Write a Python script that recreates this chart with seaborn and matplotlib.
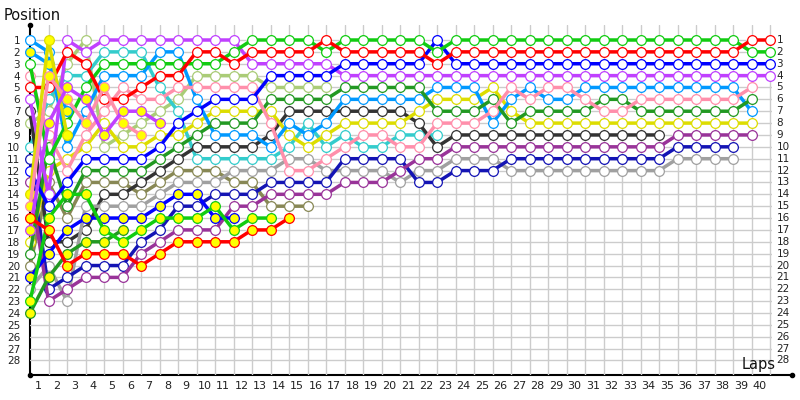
import matplotlib
matplotlib.use("Agg")
import matplotlib.pyplot as plt
import matplotlib.transforms as mtransforms
from matplotlib.lines import Line2D
import seaborn as sns
import pandas as pd

sns.set_style("white")
plt.rcParams["font.family"] = ["DejaVu Sans"]

# ---------------- data (position per lap, lap 0 = grid) ----------------
lap_labels = list(range(1, 41))
position_labels = list(range(1, 29))

red_w = [5, 5, 2, 3, 6, 6, 5, 4, 4, 2, 2, 3, 2, 2, 2, 2, 1, 2, 2, 2, 2, 2, 3,
         2, 2, 2, 2, 2, 2, 2, 2, 2, 2, 2, 2, 2, 2, 2, 2, 1, 1]
green_w = [3, 11, 8, 5, 3, 3, 3, 3, 3, 3, 3, 2, 1, 1, 1, 1, 2, 1, 1, 1, 1, 1, 2,
           1, 1, 1, 1, 1, 1, 1, 1, 1, 1, 1, 1, 1, 1, 1, 1, 2, 2]
blue_w = [12, 15, 13, 11, 11, 11, 11, 10, 8, 7, 6, 6, 6, 4, 4, 4, 4, 3, 3, 3, 3, 3, 1,
          3, 3, 3, 3, 3, 3, 3, 3, 3, 3, 3, 3, 3, 3, 3, 3, 3, 3]
violet_w = [6, 14, 1, 2, 1, 1, 1, 1, 1, 1, 1, 1, 3, 3, 3, 3, 3,
            4, 4, 4, 4, 4, 4, 4, 4, 4, 4, 4, 4, 4, 4, 4, 4, 4, 4, 4, 4, 4, 4, 4, 4]
pink_w = [4, 9, 12, 9, 7, 5, 6, 6, 5, 5, 5, 5, 5, 8, 12, 12, 11, 10, 9, 9, 10, 10, 8,
          8, 8, 7, 5, 6, 5, 5, 6, 7, 7, 6, 6, 6, 6, 6, 6, 5]
dkgreen_w = [19, 10, 15, 12, 12, 12, 12, 11, 10, 9, 8, 8, 8, 6, 6, 6, 6, 5, 5, 5, 5, 5, 7,
             7, 7, 6, 8, 7, 7, 7, 7, 6, 6, 7, 7, 7, 7, 7, 7, 6]
ltblue_w = [1, 2, 10, 7, 4, 4, 4, 2, 2, 6, 9, 9, 9, 10, 8, 9, 8, 6, 6, 6, 6, 6, 5,
            5, 5, 8, 6, 5, 6, 6, 5, 5, 5, 5, 5, 5, 5, 5, 5, 7]
yellow_w = [18, 12, 11, 10, 8, 10, 10, 9, 9, 8, 7, 7, 7, 7, 9, 10, 9, 8, 8, 8, 8, 7, 6,
            6, 6, 5, 7, 8, 8, 8, 8, 8, 8, 8, 8, 8, 8, 8, 8, 8]
purple_w = [13, 23, 22, 21, 21, 21, 19, 18, 17, 17, 17, 15, 15, 14, 14, 14, 14, 13, 13, 13, 12, 11, 11,
            10, 10, 10, 10, 10, 10, 10, 10, 10, 10, 10, 10, 9, 9, 9, 9, 9]
navy_w = [11, 22, 21, 20, 20, 20, 18, 17, 15, 15, 14, 14, 14, 13, 13, 13, 13, 11, 11, 11, 11, 13, 13,
          12, 12, 12, 11, 11, 11, 11, 11, 11, 11, 11, 11, 10, 10, 10, 10]
gray_w = [22, 20, 23, 15, 15, 15, 15, 14, 13, 13, 13, 12, 12, 12, 11, 11, 12, 12, 12, 12, 13, 12, 12,
          11, 11, 11, 12, 12, 12, 12, 12, 12, 12, 12, 12, 11, 11, 11, 11]
black_w = [7, 18, 18, 17, 14, 14, 13, 12, 11, 10, 10, 10, 10, 9, 7, 7, 7, 7, 7, 7, 7, 8, 10,
           9, 9, 9, 9, 9, 9, 9, 9, 9, 9, 9, 9]
cyan_w = [10, 6, 4, 4, 2, 2, 2, 5, 7, 11, 11, 11, 11, 11, 10, 8, 10, 9, 10, 10, 9, 9, 9]
ltolive_w = [8, 7, 3, 1, 10, 9, 8, 7, 6, 4, 4, 4, 4, 5, 5, 5, 5]
olive_w = [20, 13, 16, 13, 13, 13, 14, 13, 12, 12, 12, 13, 13, 15, 15, 15]

red_y = [16, 17, 20, 19, 19, 19, 20, 19, 18, 18, 18, 18, 17, 17, 16]
green_y = [23, 16, 14, 14, 17, 18, 17, 16, 16, 16, 15, 17, 16, 16]
blue_y = [21, 19, 17, 16, 16, 16, 16, 15, 14, 14, 16, 16]
violet_y = [17, 8, 5, 6, 9, 7, 7, 8]
pink_y = [15, 4, 6, 8, 5, 8, 9]
ltblue_y = [2, 3, 7]
yellow_y = [14, 1, 9]
dkgreen_y = [24, 21, 19, 18, 18, 17]

# name -> (colour, series); drawing order = list order
white_drivers = {
    "Olive": ("#888855", olive_w),
    "Light olive": ("#aacc77", ltolive_w),
    "Cyan": ("#33cccc", cyan_w),
    "Black": ("#333333", black_w),
    "Gray": ("#a0a0a0", gray_w),
    "Navy": ("#1414b4", navy_w),
    "Purple": ("#993399", purple_w),
    "Yellow": ("#dddd00", yellow_w),
    "Light blue": ("#0099ff", ltblue_w),
    "Dark green": ("#229922", dkgreen_w),
    "Pink": ("#ff8fab", pink_w),
    "Violet": ("#c040ff", violet_w),
    "Blue": ("#0000ff", blue_w),
    "Green": ("#11cc11", green_w),
    "Red": ("#ff0000", red_w),
}
yellow_drivers = {
    "Dark green 2": ("#229922", dkgreen_y),
    "Light blue 2": ("#0099ff", ltblue_y),
    "Yellow 2": ("#dddd00", yellow_y),
    "Pink 2": ("#ff8fab", pink_y),
    "Violet 2": ("#c040ff", violet_y),
    "Blue 2": ("#0000ff", blue_y),
    "Green 2": ("#11cc11", green_y),
    "Red 2": ("#ff0000", red_y),
}

rows = []
for group in (white_drivers, yellow_drivers):
    for name, (col, series) in group.items():
        for lap, pos in enumerate(series):
            rows.append({"driver": name, "lap": lap, "pos": pos})
df = pd.DataFrame(rows)

# ---------------- figure ----------------
W, H = 800, 400
fig = plt.figure(figsize=(8, 4), dpi=100)
x0, x1, ytop, ybot = 30, 772, 25, 375
ax = fig.add_axes([x0 / W, (H - ybot) / H, (x1 - x0) / W, (ybot - ytop) / H])
ax.set_zorder(2)
ax.patch.set_visible(False)

for group, face in ((white_drivers, "white"), (yellow_drivers, "#ffff00")):
    names = list(group.keys())
    pal = {n: group[n][0] for n in names}
    sub = df[df["driver"].isin(names)]
    sns.lineplot(data=sub, x="lap", y="pos", hue="driver", hue_order=names,
                 palette=pal, estimator=None, sort=False, marker="o",
                 markersize=7, markerfacecolor=face, markeredgewidth=0.9,
                 linewidth=2.5, legend=False, ax=ax)

for ln in ax.lines:
    ln.set_markeredgecolor(ln.get_color())
    ln.set_solid_joinstyle("round")
    ln.set_clip_on(False)

px_lap = 18.5
px_pos = 11.87
ax.set_xlim(0, (x1 - x0) / px_lap)
ax.set_ylim(1 + (ybot - 40) / px_pos, 1 + (ytop - 40) / px_pos)

ax.set_xticks(lap_labels)
ax.set_xticklabels([str(v) for v in lap_labels])
ax.set_yticks(position_labels)
ax.set_yticklabels([str(v) for v in position_labels])
ax.grid(True, color="#cccccc", linewidth=1)
ax.set_axisbelow(True)
for s in ax.spines.values():
    s.set_visible(False)
ax.tick_params(axis="x", length=0, pad=4, labelsize=8, colors="#222222")
ax.tick_params(axis="y", length=0, pad=7, labelsize=7.5, colors="#222222")
ax.set_xlabel("")
ax.set_ylabel("")

offset = mtransforms.ScaledTranslation(-10.5 / 100, 0, fig.dpi_scale_trans)
for lab in ax.get_xticklabels():
    lab.set_transform(lab.get_transform() + offset)

# right-hand position labels
for p in position_labels:
    ax.text(40.35, p, str(p), ha="left", va="center", fontsize=7.5,
            color="#222222", clip_on=False)

# axis lines with end dots (drawn beneath the data axes)
fy = lambda y: (H - y) / H
fx = lambda x: x / W
fig.add_artist(Line2D([fx(30), fx(792)], [fy(375), fy(375)], color="black", lw=1.5, zorder=1))
fig.add_artist(Line2D([fx(30), fx(30)], [fy(375), fy(25)], color="black", lw=1.5, zorder=1))
for (xx, yy) in ((30, 375), (30, 25), (792, 375)):
    fig.add_artist(Line2D([fx(xx)], [fy(yy)], marker="o", markersize=3,
                          color="black", lw=0, zorder=1))

fig.text(fx(4), fy(15), "Position", ha="left", va="center", fontsize=10.5, color="#111111")
fig.text(fx(776), fy(365), "Laps", ha="right", va="center", fontsize=10.5, color="#111111")

fig.savefig("out.png", dpi=100)
